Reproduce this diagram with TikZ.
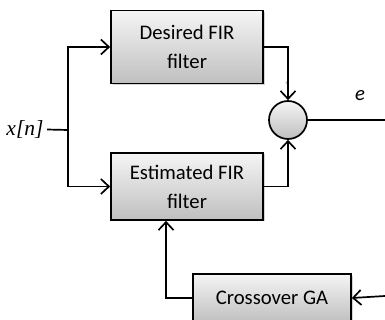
\documentclass[tikz,border=0pt]{standalone}
\usepackage{fontspec}
\setmainfont{Carlito}
\newfontfamily\serifit{Liberation Serif}
\usetikzlibrary{arrows.meta, shadows}

\tikzset{
  block/.style={draw, line width=1.7pt, top color=gray!8, bottom color=gray!50,
    drop shadow={shadow xshift=1.5pt, shadow yshift=-1.5pt, opacity=0.35},
    align=center, font=\fontsize{20.7}{29}\selectfont},
  wire/.style={line width=1.7pt},
  tip/.style={wire, -{Straight Barb[length=8pt, width=15pt, line width=1.7pt]}}
}

\begin{document}
\begin{tikzpicture}[x=1pt, y=-1pt]
            \useasboundingbox (0,0) rectangle (385,320);
            \node[block, minimum width=152pt, minimum height=73pt] (desired) at (187, 47) {Desired FIR\\filter};
            \node[block, minimum width=152pt, minimum height=67pt] (estimated) at (187, 186.5) {Estimated FIR\\filter};
            \node[block, minimum width=158pt, minimum height=48pt] (ga) at (272, 298) {Crossover GA};
            \node[draw, circle, line width=1.7pt, minimum size=38pt, top color=gray!8, bottom color=gray!50] (sum) at (288, 120) {};
            \node[font=\serifit\itshape\fontsize{21.5}{24}\selectfont] (xn) at (25, 129) {x[n]};
            \node[font=\itshape\fontsize{20.7}{24}\selectfont] (e) at (360, 96) {e};
            \node[font=\fontsize{7}{8}\selectfont, text=gray] (plus) at (287, 84) {+};
            \coordinate (split) at (68, 130);
            \coordinate (out) at (385, 120);
            \coordinate (gain) at (385, 296);
            
            \draw[wire] (xn) -- (split);
            \draw[tip] (split) |- (desired.west);
            \draw[tip] (split) |- (estimated.west);
            \draw[tip] (desired.east) -| (sum.north);
            \draw[tip] (estimated.east) -| (sum.south);
            \draw[wire] (sum.east) -- (out);
            \draw[tip] (gain) -- (ga.east);
            \draw[tip] (ga.west) -| ([xshift=-21pt]estimated.south);
    	\end{tikzpicture}
\end{document}
